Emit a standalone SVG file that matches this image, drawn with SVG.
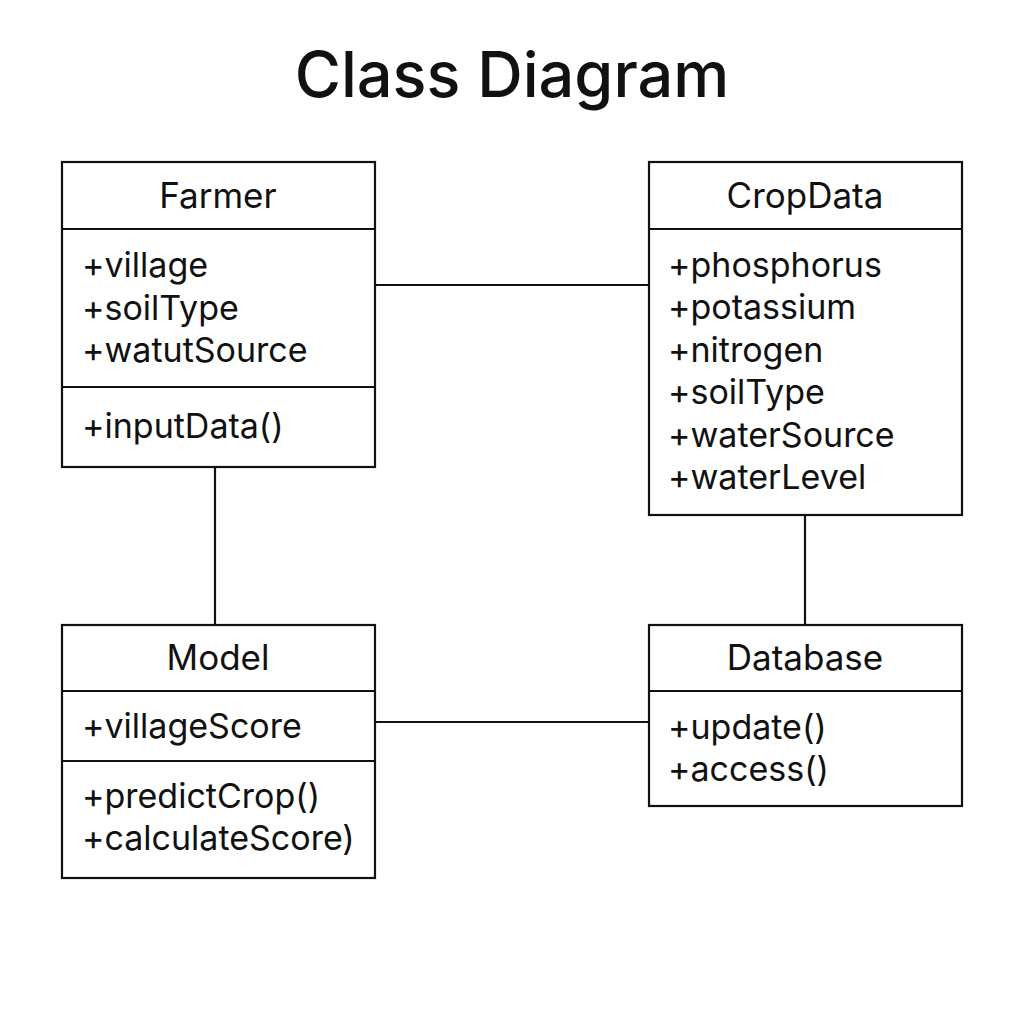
<svg xmlns="http://www.w3.org/2000/svg" width="1024" height="1024" viewBox="0 0 1024 1024">
<style>
.box{fill:#fff;stroke:#111;stroke-width:2.2}
.ln{stroke:#111;stroke-width:2.2;fill:none}
.t{font-family:Inter,"Liberation Sans",sans-serif;font-size:34px;fill:#111}
.h{text-anchor:middle;font-size:35px}
.title{font-family:Inter,"Liberation Sans",sans-serif;font-size:63px;font-weight:500;fill:#111;text-anchor:middle}
</style>
<rect width="1024" height="1024" fill="#fff"/>
<text class="title" x="512" y="97">Class Diagram</text>
<g id="connectors">
<line class="ln" x1="375" y1="285" x2="649" y2="285"/>
<line class="ln" x1="215" y1="467" x2="215" y2="625"/>
<line class="ln" x1="805" y1="515" x2="805" y2="625"/>
<line class="ln" x1="375" y1="722" x2="649" y2="722"/>
</g>
<g id="farmer">
<rect class="box" x="62" y="162" width="313" height="305"/>
<line class="ln" x1="62" y1="229" x2="375" y2="229"/>
<line class="ln" x1="62" y1="387" x2="375" y2="387"/>
<text class="t h" x="218" y="208">Farmer</text>
<text class="t" x="82" y="277">+village</text>
<text class="t" x="82" y="320">+soilType</text>
<text class="t" x="82" y="362">+watutSource</text>
<text class="t" x="82" y="438">+inputData()</text>
</g>
<g id="cropdata">
<rect class="box" x="649" y="162" width="313" height="353"/>
<line class="ln" x1="649" y1="229" x2="962" y2="229"/>
<text class="t h" x="805" y="208">CropData</text>
<text class="t" x="668" y="277">+phosphorus</text>
<text class="t" x="668" y="319">+potassium</text>
<text class="t" x="668" y="362">+nitrogen</text>
<text class="t" x="668" y="404">+soilType</text>
<text class="t" x="668" y="447">+waterSource</text>
<text class="t" x="668" y="489">+waterLevel</text>
</g>
<g id="model">
<rect class="box" x="62" y="625" width="313" height="253"/>
<line class="ln" x1="62" y1="691" x2="375" y2="691"/>
<line class="ln" x1="62" y1="761" x2="375" y2="761"/>
<text class="t h" x="218" y="670">Model</text>
<text class="t" x="82" y="738">+villageScore</text>
<text class="t" x="82" y="808">+predictCrop()</text>
<text class="t" x="82" y="850">+calculateScore)</text>
</g>
<g id="database">
<rect class="box" x="649" y="625" width="313" height="181"/>
<line class="ln" x1="649" y1="691" x2="962" y2="691"/>
<text class="t h" x="805" y="670">Database</text>
<text class="t" x="668" y="739">+update()</text>
<text class="t" x="668" y="781">+access()</text>
</g>
</svg>
